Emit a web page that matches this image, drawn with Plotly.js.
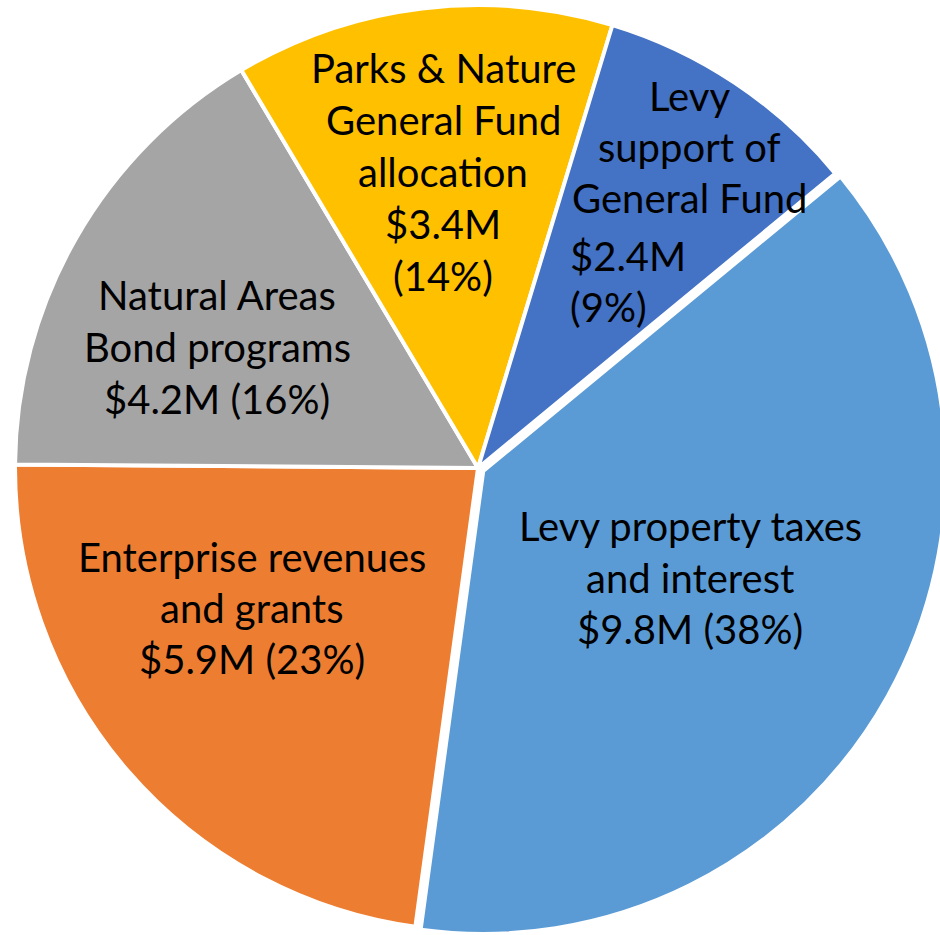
<!DOCTYPE html>
<html>
<head>
<meta charset="utf-8">
<script src="https://cdn.plot.ly/plotly-3.0.1.min.js"></script>
<style>
  html, body { margin: 0; padding: 0; width: 940px; height: 935px; overflow: hidden; background: #fff; }
  #chart { position: absolute; left: 9px; top: -1px; width: 938px; height: 938px; }
</style>
</head>
<body>
<div id="chart"></div>
<script>
// ---- data ----
var categories = [
  'Levy property taxes and interest',
  'Enterprise revenues and grants',
  'Natural Areas Bond programs',
  'Parks & Nature General Fund allocation',
  'Levy support of General Fund'
];
var values = [9.8, 5.9, 4.2, 3.4, 2.4];
var pulls = [0.013, 0, 0, 0, 0];
var labelLines = [
  ['Levy property taxes', 'and interest', '$9.8M (38%)'],
  ['Enterprise revenues', 'and grants', '$5.9M (23%)'],
  ['Natural Areas', 'Bond programs', '$4.2M (16%)'],
  ['Parks & Nature', 'General Fund', 'allocation', '$3.4M', '(14%)'],
  ['Levy', 'support of', 'General Fund', '$2.4M', '(9%)']
];

// ---- styling / layout (window pixel positions of label lines) ----
var colors = ['#5B9BD5', '#ED7D31', '#A5A5A5', '#FFC000', '#4472C4'];
var DIV_LEFT = 9, DIV_TOP = -1, DIV_SIZE = 938;
var lineX = [
  [690, 690, 690],
  [252, 252, 252],
  [217, 217, 217],
  [443, 443, 443, 443, 443],
  [689, 689, 689, 568, 568]
];
var lineAnchor = [
  ['center', 'center', 'center'],
  ['center', 'center', 'center'],
  ['center', 'center', 'center'],
  ['center', 'center', 'center', 'center', 'center'],
  ['center', 'center', 'center', 'left', 'left']
];
var lineY = [
  [526, 578, 629],
  [557, 608, 659],
  [295, 347, 399],
  [68, 120, 172, 224, 276],
  [96, 147, 198, 256, 307]
];
var FONT = 'Lato, "Open Sans", sans-serif';
var FONT_SIZE = 40;

var annotations = [];
for (var i = 0; i < labelLines.length; i++) {
  for (var j = 0; j < labelLines[i].length; j++) {
    annotations.push({
      text: labelLines[i][j],
      xref: 'paper', yref: 'paper',
      x: (lineX[i][j] - DIV_LEFT) / DIV_SIZE,
      y: 1 - (lineY[i][j] - DIV_TOP) / DIV_SIZE,
      xanchor: lineAnchor[i][j], yanchor: 'middle',
      showarrow: false,
      font: { family: FONT, size: FONT_SIZE, color: '#000000' }
    });
  }
}

var trace = {
  type: 'pie',
  labels: categories,
  values: values,
  pull: pulls,
  sort: false,
  direction: 'clockwise',
  rotation: 50.5,
  textinfo: 'none',
  hoverinfo: 'label+value+percent',
  marker: { colors: colors, line: { color: '#ffffff', width: 4 } },
  domain: { x: [0, 1], y: [0, 1] }
};

var layout = {
  width: DIV_SIZE, height: DIV_SIZE,
  margin: { l: 0, r: 0, t: 0, b: 0, pad: 0 },
  showlegend: false,
  paper_bgcolor: 'rgba(0,0,0,0)',
  plot_bgcolor: 'rgba(0,0,0,0)',
  annotations: annotations
};

Plotly.newPlot('chart', [trace], layout, { displayModeBar: false, staticPlot: true });
</script>
</body>
</html>
